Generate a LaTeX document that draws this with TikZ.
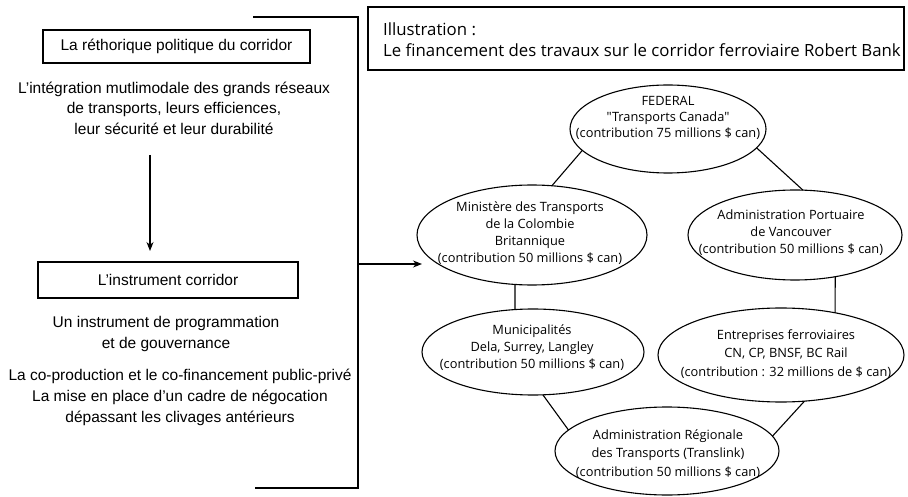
\documentclass[tikz,border=0pt]{standalone}
\usepackage{fontspec}
\setmainfont{Liberation Sans}
\newfontfamily\myr{Open Sans}
\usetikzlibrary{arrows.meta,shapes.geometric}
\begin{document}
\begin{tikzpicture}[x=1pt,y=-1pt,
 boxnode/.style={draw,line width=1.2pt,inner sep=0pt,outer sep=0pt},
 ell/.style={draw,ellipse,line width=1.1pt,inner sep=0pt,outer sep=0pt},
 ltext/.style={align=center,font=\fontsize{15.5}{20.5}\selectfont,inner sep=0pt},
 etext/.style={align=center,font=\myr\fontsize{12.8}{17}\selectfont,inner sep=0pt},
 link/.style={line width=1.1pt},
 arr/.style={line width=1.1pt,-{Stealth[length=9pt,width=7pt]}}]
\useasboundingbox (0,0) rectangle (908,497);

% left column
\node[boxnode,ltext,minimum width=267pt,minimum height=33pt] (b1) at (176.5,46.5) {La réthorique politique du corridor};
\node[ltext] (t1) at (174,108) {L'intégration mutlimodale des grands réseaux\\de transports, leurs efficiences,\\leur sécurité et leur durabilité};
\coordinate (a1) at (150,155);
\coordinate (a2) at (150,251);
\draw[arr] (a1) -- (a2);
\node[boxnode,ltext,minimum width=260pt,minimum height=36pt] (b2) at (168,280) {L'instrument corridor};
\node[ltext,font=\fontsize{15.5}{21.5}\selectfont] (t2) at (166,334) {Un instrument de programmation\\et de gouvernance};
\node[ltext,font=\fontsize{15.5}{21}\selectfont] (t3) at (180,397) {La co-production et le co-financement public-privé\\La mise en place d'un cadre de négocation\\dépassant les clivages antérieurs};

% bracket
\coordinate (k1) at (253,17);
\coordinate (k2) at (358,17);
\coordinate (k3) at (358,488);
\coordinate (k4) at (255,488);
\draw[link,line width=1.2pt] (k1) -- (k2) -- (k3) -- (k4);
\coordinate (br) at (358,264);
\coordinate (bre) at (422,264);
\draw[arr] (br) -- (bre);

% illustration box
\node[boxnode,minimum width=536pt,minimum height=63pt] (ill) at (636,38.5) {};
\node[anchor=west,align=left,inner sep=0pt,font=\myr\fontsize{16.8}{21}\selectfont] (illt) at (383,40) {Illustration :\\Le financement des travaux sur le corridor ferroviaire Robert Bank};

% ellipses
\node[ell,minimum width=196pt,minimum height=88pt] (fed) at (668,129) {};
\node[etext,font=\myr\fontsize{12.8}{16}\selectfont] (fedt) at (668,118) {FEDERAL\\"Transports Canada"\\(contribution 75 millions \$ can)};

\node[ell,minimum width=230pt,minimum height=100pt] (min) at (532,235) {};
\node[etext] (mint) at (530,233) {Ministère des Transports\\de la Colombie\\Britannique\\(contribution 50 millions \$ can)};

\node[ell,minimum width=214pt,minimum height=90pt] (port) at (795,235) {};
\node[etext] (portt) at (791,233) {Administration Portuaire\\de Vancouver\\(contribution 50 millions \$ can)};

\node[ell,minimum width=222pt,minimum height=86pt] (mun) at (533,352) {};
\node[etext] (munt) at (532,348) {Municipalités\\Dela, Surrey, Langley\\(contribution 50 millions \$ can)};

\node[ell,minimum width=246pt,minimum height=94pt] (ent) at (781,355) {};
\node[etext,font=\myr\fontsize{12.8}{18.5}\selectfont] (entt) at (786,354) {Entreprises ferroviaires\\CN, CP, BNSF, BC Rail\\(contribution : 32 millions de \$ can)};

\node[ell,minimum width=224pt,minimum height=88pt] (reg) at (667,451) {};
\node[etext,font=\myr\fontsize{12.8}{18.5}\selectfont] (regt) at (668,454) {Administration Régionale\\des Transports (Translink)\\(contribution 50 millions \$ can)};

% connectors
\draw[link] (fed.194) -- (min.68);
\draw[link] (fed.348) -- (port.80);
\draw[link] (min.251) -- (mun.113);
\draw[link] (port.314) -- (ent.38);
\draw[link] (mun.283) -- (reg.168);
\draw[link] (ent.297) -- (reg.8);
\end{tikzpicture}
\end{document}
